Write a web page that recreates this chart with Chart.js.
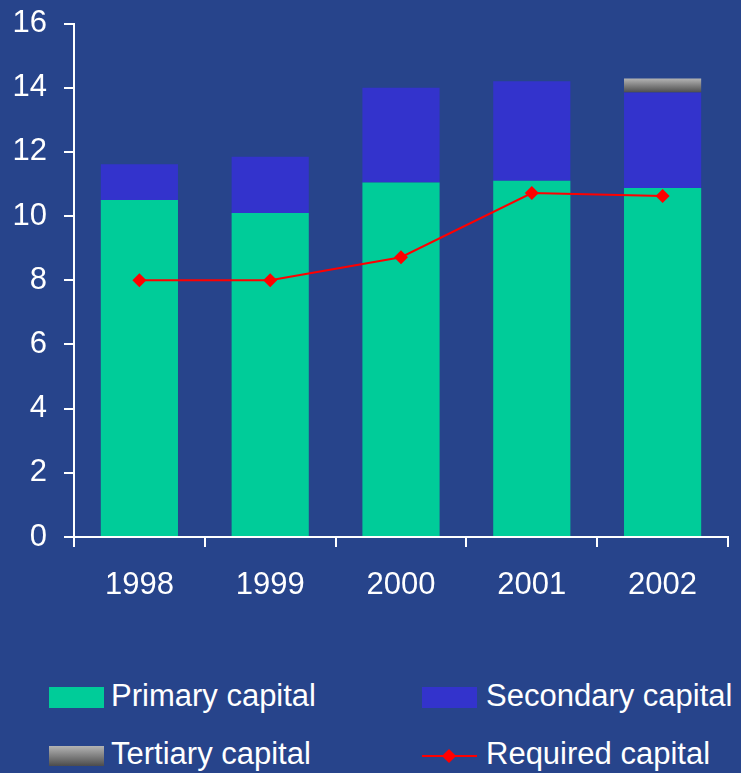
<!DOCTYPE html>
<html>
<head>
<meta charset="utf-8">
<script src="https://cdn.jsdelivr.net/npm/chart.js@4/dist/chart.umd.min.js"></script>
<style>
  html, body { margin: 0; padding: 0; background: #27448b; }
  #wrap { position: relative; width: 741px; height: 773px; overflow: hidden; }
  #chart { position: absolute; left: 0; top: -12px; }
  .lg { position: absolute; font-family: "Liberation Sans", Arial, sans-serif; font-size: 31px; line-height: 31px; color: #fff; white-space: nowrap; }
  .sw { position: absolute; width: 55px; height: 21px; }
</style>
</head>
<body>
<div id="wrap">
  <canvas id="chart" width="741" height="632"></canvas>
  <div class="sw" style="left:49px;top:687px;background:#00cc99"></div>
  <div class="lg" style="left:111px;top:680px">Primary capital</div>
  <div class="sw" style="left:422px;top:687px;background:#3333cc"></div>
  <div class="lg" style="left:486px;top:680px">Secondary capital</div>
  <div class="sw" style="left:49px;top:746px;height:20px;background:linear-gradient(#b4b4b4,#4c4c4c)"></div>
  <div class="lg" style="left:111px;top:738px">Tertiary capital</div>
  <div class="sw" style="left:422px;top:746px;height:20px">
    <div style="position:absolute;left:0;top:9px;width:55px;height:2px;background:#ff0000"></div>
    <div style="position:absolute;left:22px;top:5px;width:10px;height:10px;background:#ff0000;transform:rotate(45deg)"></div>
  </div>
  <div class="lg" style="left:486px;top:738px">Required capital</div>
</div>
<script>
const years = ['1998', '1999', '2000', '2001', '2002'];
const primaryCapital = [10.5, 10.1, 11.05, 11.1, 10.88];
const secondaryCapital = [1.12, 1.75, 2.95, 3.1, 2.97];
const tertiaryCapital = [null, null, null, null, 0.44];
const requiredCapital = [8.0, 8.0, 8.72, 10.72, 10.63];
const yTicks = [0, 2, 4, 6, 8, 10, 12, 14, 16];

const tickFont = { family: '"Liberation Sans", Arial, sans-serif', size: 31 };

function tertiaryFill(context) {
  const chart = context.chart;
  const area = chart.chartArea;
  if (!area) return '#808080';
  const y = chart.scales.y;
  const g = chart.ctx.createLinearGradient(0, y.getPixelForValue(14.29), 0, y.getPixelForValue(13.85));
  g.addColorStop(0, '#b4b4b4');
  g.addColorStop(1, '#4c4c4c');
  return g;
}

new Chart(document.getElementById('chart'), {
  type: 'bar',
  data: {
    labels: years,
    datasets: [
      {
        type: 'line',
        label: 'Required capital',
        data: requiredCapital,
        stack: 'req',
        borderColor: '#ff0000',
        backgroundColor: '#ff0000',
        borderWidth: 2,
        pointStyle: 'rectRot',
        pointRadius: 7,
        pointBorderWidth: 0,
        tension: 0,
        order: 0
      },
      {
        label: 'Primary capital',
        data: primaryCapital,
        stack: 'cap',
        backgroundColor: '#00cc99',
        order: 1
      },
      {
        label: 'Secondary capital',
        data: secondaryCapital,
        stack: 'cap',
        backgroundColor: '#3333cc',
        order: 1
      },
      {
        label: 'Tertiary capital',
        data: tertiaryCapital,
        stack: 'cap',
        backgroundColor: tertiaryFill,
        order: 1
      }
    ]
  },
  options: {
    responsive: false,
    animation: false,
    layout: { padding: { top: 12, right: 13, left: 0, bottom: 0 } },
    datasets: {
      bar: { barPercentage: 0.59, categoryPercentage: 1.0 }
    },
    scales: {
      x: {
        stacked: true,
        grid: {
          offset: true,
          drawOnChartArea: false,
          drawTicks: true,
          tickLength: 10,
          color: '#ffffff',
          lineWidth: 2
        },
        border: { color: '#ffffff', width: 2 },
        ticks: { color: '#ffffff', font: tickFont, padding: 20, maxRotation: 0 },
        afterFit: axis => { axis.height = 632 - 549; }
      },
      y: {
        stacked: true,
        min: 0,
        max: 16,
        afterBuildTicks: axis => { axis.ticks = yTicks.map(v => ({ value: v })); },
        grid: {
          drawOnChartArea: false,
          drawTicks: true,
          tickLength: 10,
          color: '#ffffff',
          lineWidth: 2
        },
        border: { color: '#ffffff', width: 2 },
        ticks: { color: '#ffffff', font: tickFont, padding: 17 },
        afterFit: axis => { axis.width = 74; }
      }
    },
    plugins: {
      legend: { display: false },
      tooltip: { enabled: false }
    }
  }
});
</script>
</body>
</html>
